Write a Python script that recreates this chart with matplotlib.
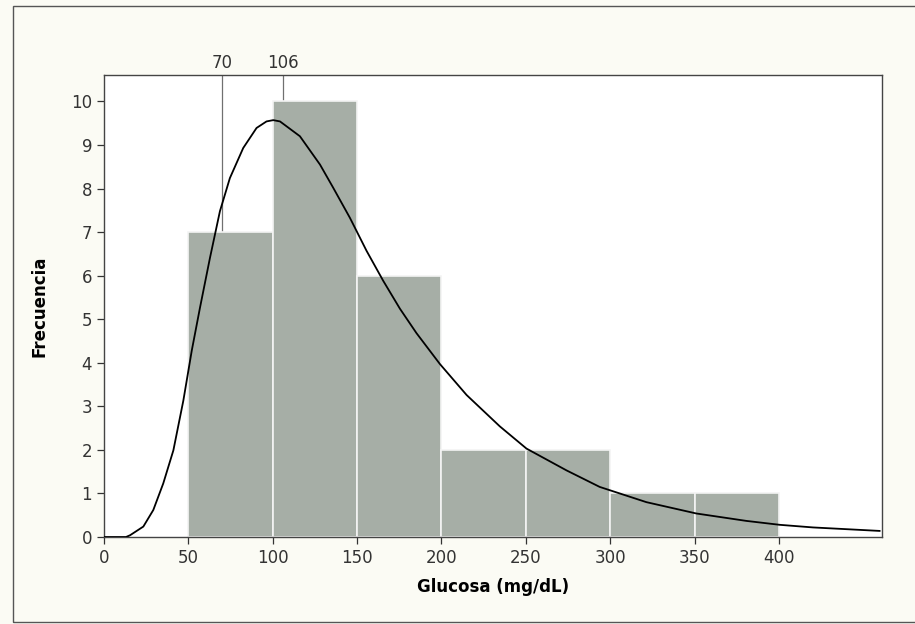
import matplotlib.pyplot as plt
from matplotlib.patches import Rectangle

# histograma de glucosa (mg/dL)
bin_edges = [50, 100, 150, 200, 250, 300, 350, 400]
counts = [7, 10, 6, 2, 2, 1, 1]

# curva ajustada, leida punto a punto del grafico original
curve_x = [0, 13, 15.4, 23.3, 29.2, 35.1, 41.1, 47, 52, 56.9, 62.8, 68.7, 74.6,
           82.5, 90.4, 96.3, 100.3, 104.3, 116.1, 128, 135.8, 145.7, 155.6,
           165.5, 175.4, 185.2, 199.1, 214.9, 234.6, 250.4, 274.1, 293.8,
           321.5, 351.1, 380.7, 400.5, 420.2, 440, 459.7]
curve_y = [0, 0, 0.04, 0.24, 0.62, 1.23, 1.99, 3.13, 4.28, 5.27, 6.41, 7.48, 8.24,
           8.93, 9.39, 9.54, 9.57, 9.54, 9.20, 8.55, 8.02, 7.33, 6.57,
           5.88, 5.24, 4.68, 3.97, 3.26, 2.54, 2.03, 1.53, 1.15,
           0.80, 0.54, 0.37, 0.28, 0.22, 0.18, 0.14]

ref_values = [70, 106]
ref_labels = ["70", "106"]

bg = "#fbfbf4"
fig = plt.figure(figsize=(9.15, 6.24), dpi=100, facecolor=bg)
ax = fig.add_axes([0.1137, 0.1394, 0.850, 0.740])
ax.set_facecolor("white")

# lineas de referencia (detras de las barras)
for v, lab in zip(ref_values, ref_labels):
    ax.axvline(v, color="#707070", linewidth=0.9, zorder=1)
    ax.text(v, 10.68, lab, ha="center", va="bottom", fontsize=12, color="#333333")

lefts = bin_edges[:-1]
widths = [b - a for a, b in zip(bin_edges[:-1], bin_edges[1:])]
ax.bar(lefts, counts, width=widths, align="edge", color="#a6aea6",
       edgecolor="#f4f4f4", linewidth=1.2, zorder=2)

ax.plot(curve_x, curve_y, color="black", linewidth=1.3, zorder=3)

ax.set_xlim(0, 461)
ax.set_ylim(0, 10.6)
ax.set_xticks([0, 50, 100, 150, 200, 250, 300, 350, 400])
ax.set_yticks(range(0, 11))
ax.tick_params(axis="both", labelsize=12, colors="#333333", length=5, width=0.9,
               direction="out")
for s in ax.spines.values():
    s.set_color("#444444")
    s.set_linewidth(1.0)

ax.set_xlabel("Glucosa (mg/dL)", fontsize=12, fontweight="bold", labelpad=8)
ax.set_ylabel("Frecuencia", fontsize=12, fontweight="bold", labelpad=16)

# marco exterior de la figura
fig.patches.append(Rectangle((0.014, 0.004), 0.99, 0.986, transform=fig.transFigure,
                             fill=False, edgecolor="#555555", linewidth=1.0))

plt.savefig("out.png", dpi=100, facecolor=bg)
